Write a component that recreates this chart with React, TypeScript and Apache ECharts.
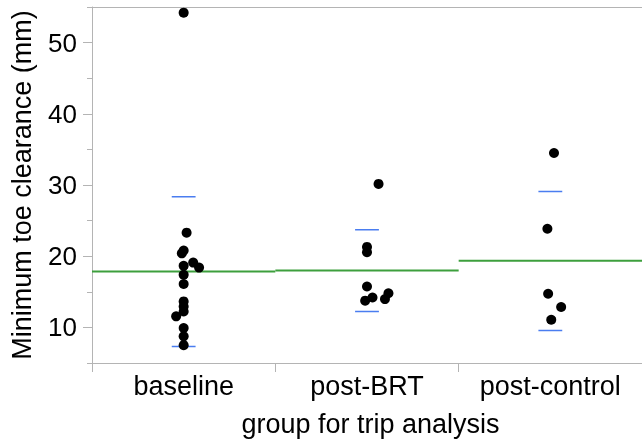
import React, { useEffect, useRef } from 'react';
import * as echarts from 'echarts';

const categories = ['baseline', 'post-BRT', 'post-control'];

const baselineValues = [54.2, 23.3, 20.8, 20.4, 19.1, 18.4, 18.65, 17.4, 16.1, 13.65, 12.95, 12.25, 11.55, 9.9, 8.75, 7.5];
const baselineJitter = [0, 0.016, 0, -0.01, 0.052, 0.084, 0, 0, 0, 0, 0, 0, -0.041, 0, 0, 0];

const postBrtValues = [30.15, 21.3, 20.55, 15.75, 14.2, 13.75, 14.8, 13.98];
const postBrtJitter = [0.063, 0, 0, 0, 0.03, -0.01, 0.117, 0.098];

const postControlValues = [34.5, 23.85, 14.73, 12.86, 11.08];
const postControlJitter = [0.02, -0.016, -0.012, 0.059, 0.005];

const groupMeans = [17.85, 18.0, 19.35];
const sdUpper = [28.35, 23.7, 29.07];
const sdLower = [7.33, 12.24, 9.58];

const FONT = '"Liberation Sans", Arial, Helvetica, sans-serif';
const AXIS_GREY = '#b4b4b4';
const GREEN = '#3d9f3d';
const BLUE = '#4a7df0';
const SD_HALF = 0.065;

export default function App() {
  const ref = useRef<HTMLDivElement>(null);

  useEffect(() => {
    const chart = echarts.init(ref.current!, null, { renderer: 'svg' });

    const groups = [
      { values: baselineValues, jitter: baselineJitter },
      { values: postBrtValues, jitter: postBrtJitter },
      { values: postControlValues, jitter: postControlJitter },
    ];

    const series: any[] = [];

    groupMeans.forEach((m, i) => {
      series.push({
        type: 'line',
        xAxisIndex: 1,
        yAxisIndex: 0,
        data: [[i, m], [i + 1, m]],
        symbol: 'none',
        silent: true,
        z: 2,
        lineStyle: { color: GREEN, width: 2 },
      });
    });

    [sdUpper, sdLower].forEach((arr) => {
      arr.forEach((v, i) => {
        series.push({
          type: 'line',
          xAxisIndex: 1,
          yAxisIndex: 0,
          data: [[i + 0.5 - SD_HALF, v], [i + 0.5 + SD_HALF, v]],
          symbol: 'none',
          silent: true,
          z: 2,
          lineStyle: { color: BLUE, width: 1.5 },
        });
      });
    });

    groups.forEach((g, i) => {
      series.push({
        type: 'scatter',
        xAxisIndex: 1,
        yAxisIndex: 0,
        symbolSize: 10,
        z: 5,
        itemStyle: { color: '#000', opacity: 1 },
        data: g.values.map((v, k) => [i + 0.5 + g.jitter[k], v]),
      });
    });

    chart.setOption({
      animation: false,
      grid: {
        left: 88,
        top: 7,
        width: 558,
        height: 356,
        show: false,
      },
      xAxis: [
        {
          type: 'category',
          data: categories,
          position: 'bottom',
          boundaryGap: true,
          axisLine: { show: true, lineStyle: { color: AXIS_GREY, width: 1 } },
          axisTick: { show: true, interval: 0, length: 9, lineStyle: { color: AXIS_GREY } },
          axisLabel: { interval: 0, hideOverlap: false, fontSize: 27, color: '#000', fontFamily: FONT, margin: 9 },
          splitLine: { show: false },
          name: 'group for trip analysis',
          nameLocation: 'middle',
          nameGap: 47,
          nameTextStyle: { fontSize: 27, color: '#000', fontFamily: FONT, padding: [0, 0, 0, 7] },
        },
        {
          type: 'value',
          min: 0,
          max: 3,
          position: 'bottom',
          show: false,
        },
        {
          type: 'value',
          min: 0,
          max: 3,
          position: 'top',
          axisLine: { show: true, lineStyle: { color: AXIS_GREY, width: 1 } },
          axisTick: { show: false },
          axisLabel: { show: false },
          splitLine: { show: false },
        },
      ],
      yAxis: [
        {
          type: 'value',
          min: 5,
          max: 55,
          interval: 10,
          position: 'left',
          axisLine: { show: true, lineStyle: { color: AXIS_GREY, width: 1 } },
          axisTick: { show: true, length: 5, lineStyle: { color: AXIS_GREY } },
          minorTick: { show: true, splitNumber: 2, length: 9, lineStyle: { color: AXIS_GREY } },
          axisLabel: { show: false },
          splitLine: { show: false },
          minorSplitLine: { show: false },
          name: 'Minimum toe clearance (mm)',
          nameLocation: 'middle',
          nameRotate: 90,
          nameGap: 57,
          nameTextStyle: { fontSize: 27, color: '#000', fontFamily: FONT },
        },
        {
          type: 'value',
          min: 5,
          max: 55,
          position: 'left',
          axisLine: { show: false },
          axisTick: { show: false },
          splitLine: { show: false },
          axisLabel: {
            fontSize: 26,
            color: '#000',
            fontFamily: FONT,
            margin: 15,
            formatter: (v: number) => (v % 10 === 0 ? String(v) : ''),
          },
        },
      ],
      series,
    });

    return () => chart.dispose();
  }, []);

  return (
    <div
      ref={ref}
      style={{ position: 'fixed', left: 0, top: 0, width: 642, height: 443 }}
    />
  );
}
